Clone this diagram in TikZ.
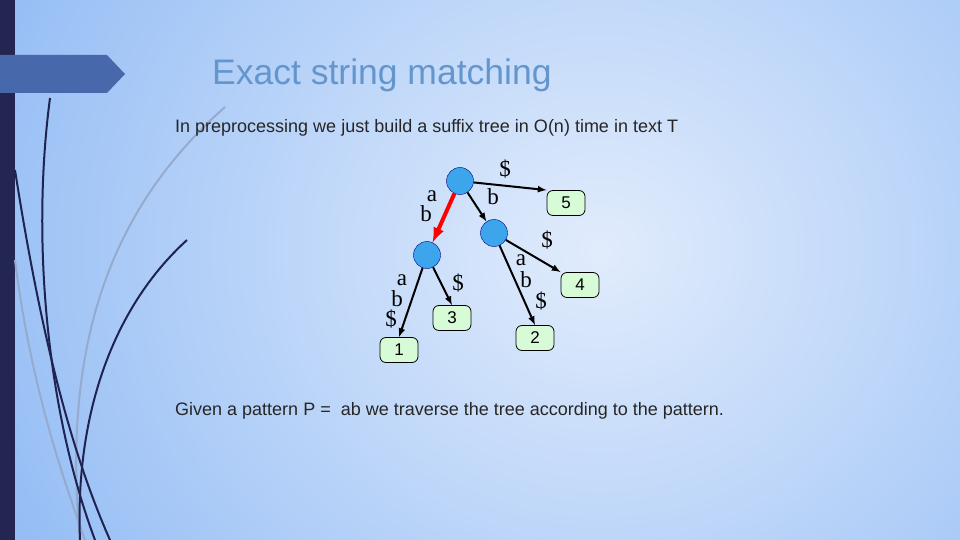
\documentclass[tikz,border=0pt]{standalone}
\usepackage{fontspec}
\setsansfont{Liberation Sans}
\setmainfont{Liberation Serif}
\definecolor{bgout}{RGB}{150,190,245}
\definecolor{bgin}{RGB}{225,236,252}
\definecolor{barc}{RGB}{35,38,80}
\definecolor{banc}{RGB}{72,104,172}
\definecolor{titc}{RGB}{100,150,205}
\definecolor{nodec}{RGB}{60,165,235}
\definecolor{leafc}{RGB}{215,250,215}
\definecolor{darkcc}{RGB}{30,35,80}
\definecolor{lightcc}{RGB}{150,170,205}
\begin{document}
\begin{tikzpicture}[x=1pt,y=-1pt,
  inode/.style={circle,fill=nodec,draw=blue!50!black,line width=0.4pt,minimum size=27pt,inner sep=0},
  leaf/.style={rounded corners=6pt,fill=leafc,draw=black,line width=0.8pt,minimum width=38pt,minimum height=25pt,inner sep=0,font=\sffamily\fontsize{17}{17}\selectfont},
  edge/.style={-latex,line width=2pt},
  lbl/.style={font=\rmfamily\fontsize{23}{23}\selectfont,inner sep=0},
  txt/.style={font=\sffamily\fontsize{18}{20}\selectfont,text=black!85,anchor=west,inner sep=0},
  darkc/.style={draw=darkcc,line width=2pt},
  lightc/.style={draw=lightcc,line width=2pt}]
\useasboundingbox (0,0) rectangle (960,540);
\fill[bgout] (0,0) rectangle (960,540);
\shade[inner color=bgin,outer color=bgout] (-50,-350) rectangle (1250,850);
\fill[barc] (0,0) rectangle (15,540);
\fill[banc] (0,55) -- (107,55) -- (125,74) -- (107,93) -- (0,93) -- cycle;
% decorative curves
\draw[lightc] (225,107) .. controls (120,200) and (60,330) .. (80,540);
\draw[lightc] (15,260) .. controls (30,380) and (60,470) .. (85,540);
\draw[darkc] (50,98) .. controls (30,250) and (50,420) .. (95,540);
\draw[darkc] (15,170) .. controls (40,330) and (70,450) .. (110,540);
\draw[darkc] (187,240) .. controls (110,310) and (75,420) .. (80,540);
\node[font=\sffamily\fontsize{35.5}{36}\selectfont,text=titc,anchor=west,inner sep=0] (title) at (212,75) {Exact string matching};
\node[txt] (t1) at (175,128) {In preprocessing we just build a suffix tree in O(n) time in text T};
\node[txt] (t2) at (175,411) {Given a pattern P = \ ab we traverse the tree according to the pattern.};
\node[inode] (r) at (460,181) {};
\node[inode] (m) at (494,233) {};
\node[inode] (l) at (427,255) {};
\node[leaf] (n5) at (566,203) {5};
\node[leaf] (n4) at (580,285) {4};
\node[leaf] (n3) at (452,318) {3};
\node[leaf] (n2) at (535,338) {2};
\node[leaf] (n1) at (399,350) {1};
\draw[edge] (r) -- (n5.north west);
\draw[edge,red,line width=4pt] (r) -- (l);
\draw[edge] (r) -- (m);
\draw[edge] (m) -- (n4.north west);
\draw[edge] (m) -- (n2.north);
\draw[edge] (l) -- (n3.north);
\draw[edge] (l) -- (n1.north);
\node[lbl] (e1) at (505,169) {\$};
\node[lbl] (e2) at (432,196) {a};
\node[lbl] (e3) at (426,214) {b};
\node[lbl] (e4) at (493,197) {b};
\node[lbl] (e5) at (547,240) {\$};
\node[lbl] (e6) at (521,260) {a};
\node[lbl] (e7) at (526,280) {b};
\node[lbl] (e8) at (541,301) {\$};
\node[lbl] (e9) at (402,280) {a};
\node[lbl] (e10) at (397,299) {b};
\node[lbl] (e11) at (391,319) {\$};
\node[lbl] (e12) at (458,283) {\$};
\end{tikzpicture}
\end{document}
